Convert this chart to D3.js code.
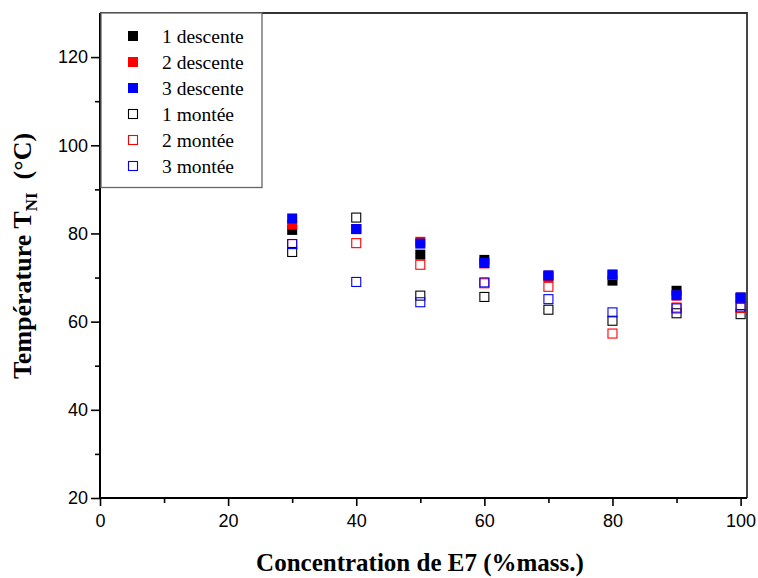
<!DOCTYPE html>
<html>
<head>
<meta charset="utf-8">
<script src="https://cdn.jsdelivr.net/npm/d3@7/dist/d3.min.js"></script>
<style>
  html, body { margin: 0; padding: 0; background: #fff; }
  svg { display: block; }
  .tick text { font-family: "Liberation Sans", Arial, sans-serif; font-size: 18px; fill: #000; }
</style>
</head>
<body>
<svg id="chart" width="758" height="578"></svg>
<script>
// Concentration of E7 (% mass.)
const concentrations = [30, 40, 50, 60, 70, 80, 90, 100];

// Nematic–isotropic transition temperature T_NI (°C), cooling (descente) and heating (montée) runs
const descente1 = [80.8, 81.0, 75.2, 74.0, 70.2, 69.3, 67.0, 65.4];
const descente2 = [82.0, 81.0, 78.1, 73.2, 70.4, 70.6, 65.9, 65.4];
const descente3 = [83.4, 81.0, 77.7, 73.3, 70.5, 70.7, 66.0, 65.5];
const montee1   = [75.8, 83.6, 65.9, 65.6, 62.7, 60.2, 61.9, 61.7];
const montee2   = [77.6, 77.8, 72.9, 68.7, 67.9, 57.3, 63.2, 63.1];
const montee3   = [77.6, 69.0, 64.4, 68.9, 65.1, 62.1, 63.0, 63.4];

const seriesNames = ["1 descente", "2 descente", "3 descente", "1 montée", "2 montée", "3 montée"];
const seriesColors = ["#000000", "#ff0000", "#0000ff", "#000000", "#ff0000", "#0000ff"];
const seriesFilled = [true, true, true, false, false, false];
const seriesValues = [descente1, descente2, descente3, montee1, montee2, montee3];

const xMajorTicks = [0, 20, 40, 60, 80, 100];
const xMinorTicks = [10, 30, 50, 70, 90];
const yMajorTicks = [20, 40, 60, 80, 100, 120];
const yMinorTicks = [30, 50, 70, 90, 110];

const svg = d3.select("#chart");
const plotLeft = 100, plotRight = 747, plotTop = 13, plotBottom = 498;

const x = d3.scaleLinear().domain([0, 101]).range([plotLeft, plotRight]);
const y = d3.scaleLinear().domain([20, 130]).range([plotBottom, plotTop]);

// frame (top and right sides)
svg.append("path")
  .attr("d", `M${plotLeft},${plotTop}H${plotRight}V${plotBottom}`)
  .attr("fill", "none").attr("stroke", "#333").attr("stroke-width", 1.8);

// x axis
const gx = svg.append("g").attr("transform", `translate(0,${plotBottom})`);
gx.call(d3.axisBottom(x).tickValues(xMajorTicks).tickSize(8).tickSizeOuter(0).tickPadding(5));
const gxm = svg.append("g").attr("transform", `translate(0,${plotBottom})`);
gxm.call(d3.axisBottom(x).tickValues(xMinorTicks).tickSize(5).tickSizeOuter(0).tickFormat(""));
gxm.select(".domain").remove();

// y axis
const gy = svg.append("g").attr("transform", `translate(${plotLeft},0)`);
gy.call(d3.axisLeft(y).tickValues(yMajorTicks).tickSize(9).tickSizeOuter(0).tickPadding(3));
const gym = svg.append("g").attr("transform", `translate(${plotLeft},0)`);
gym.call(d3.axisLeft(y).tickValues(yMinorTicks).tickSize(5).tickSizeOuter(0).tickFormat(""));
gym.select(".domain").remove();

svg.selectAll(".domain").attr("stroke", "#000").attr("stroke-width", 2);
svg.selectAll(".tick line").attr("stroke", "#000").attr("stroke-width", 1.6);
gx.selectAll(".domain").attr("d", `M${plotLeft},0H${plotRight}`);
gy.selectAll(".domain").attr("d", `M0,${plotBottom}V${plotTop}`);
gx.selectAll(".tick text").attr("dy", "0.9em");

// data markers
const size = 10;
seriesValues.forEach((vals, i) => {
  const g = svg.append("g");
  g.selectAll("rect")
    .data(concentrations.map((c, j) => [c, vals[j]]))
    .join("rect")
    .attr("x", d => x(d[0]) - size / 2 + (seriesFilled[i] ? 0 : 0.5))
    .attr("y", d => y(d[1]) - size / 2 + (seriesFilled[i] ? 0 : 0.5))
    .attr("width", seriesFilled[i] ? size : size - 1)
    .attr("height", seriesFilled[i] ? size : size - 1)
    .attr("fill", seriesFilled[i] ? seriesColors[i] : "none")
    .attr("stroke", seriesFilled[i] ? "none" : seriesColors[i])
    .attr("stroke-width", 1.1);
});

// legend
const legend = svg.append("g");
legend.append("rect")
  .attr("x", 101).attr("y", 13).attr("width", 161).attr("height", 174.5)
  .attr("fill", "#fff").attr("stroke", "#666").attr("stroke-width", 1.3);
seriesNames.forEach((name, i) => {
  const cy = 36 + i * 26;
  const s = seriesFilled[i] ? 10 : 9;
  legend.append("rect")
    .attr("x", 133 - s / 2).attr("y", cy - s / 2)
    .attr("width", s).attr("height", s)
    .attr("fill", seriesFilled[i] ? seriesColors[i] : "none")
    .attr("stroke", seriesFilled[i] ? "none" : seriesColors[i])
    .attr("stroke-width", 1.1);
  legend.append("text")
    .attr("x", 162).attr("y", cy).attr("dy", "0.35em")
    .attr("font-family", "'Liberation Serif', 'Times New Roman', serif")
    .attr("font-size", 19.5)
    .text(name);
});

// axis titles
svg.append("text")
  .attr("x", 420).attr("y", 571)
  .attr("text-anchor", "middle")
  .attr("font-family", "'Liberation Serif', 'Times New Roman', serif")
  .attr("font-weight", "bold").attr("font-size", 25)
  .text("Concentration de E7 (%mass.)");

const yt = svg.append("text")
  .attr("transform", "translate(31,256) rotate(-90)")
  .attr("text-anchor", "middle")
  .attr("font-family", "'Liberation Serif', 'Times New Roman', serif")
  .attr("font-weight", "bold").attr("font-size", 26);
yt.append("tspan").text("Température T");
yt.append("tspan").attr("font-size", 17).attr("dy", 6).text("NI");
yt.append("tspan").attr("dy", -6).text("\u00a0 (°C)");
</script>
</body>
</html>
